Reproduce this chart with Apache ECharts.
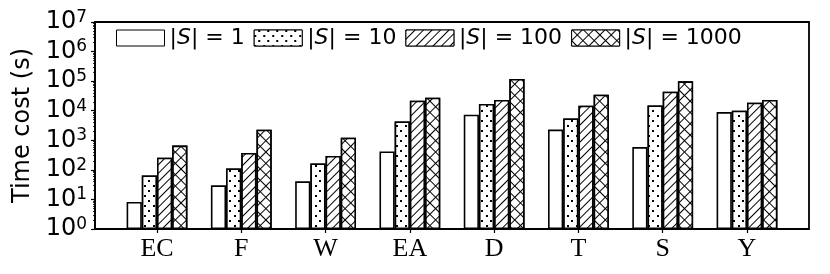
<!DOCTYPE html>
<html>
<head>
<meta charset="utf-8">
<script src="https://cdn.jsdelivr.net/npm/echarts@6/dist/echarts.min.js"></script>
<style>html,body{margin:0;padding:0;background:#fff;}#c{width:830px;height:274px;}</style>
</head>
<body>
<div id="c"></div>
<script>
// ---- data ----
var categories = ['EC', 'F', 'W', 'EA', 'D', 'T', 'S', 'Y'];
var seriesNames = ['|S| = 1', '|S| = 10', '|S| = 100', '|S| = 1000'];
var s1 = [8.2, 30, 41, 420, 7300, 2300, 590, 9000];
var s10 = [65, 112, 165, 4350, 16900, 5500, 15100, 10000];
var s100 = [257, 372, 295, 21800, 23000, 14800, 43900, 18700];
var s1000 = [660, 2280, 1230, 27600, 118000, 34800, 98500, 23000];
var yMin = 1, yMax = 1e7;
var minorTickValues = [];
for (var d = 0; d < 7; d++) { for (var m = 2; m <= 9; m++) { minorTickValues.push(Math.log10(m) + d); } }

// ---- styles ----
var decals = [
  'none',
  { symbol: 'rect', symbolSize: 1, color: '#000', backgroundColor: '#fff',
    dashArrayX: [[1.8, 6.2], [0, 4, 1.8, 2.2]], dashArrayY: [1.8, 2.2] },
  { symbol: 'rect', symbolSize: 1, color: '#000', backgroundColor: '#fff',
    dashArrayX: [1, 0], dashArrayY: [1, 5], rotation: -Math.PI / 4 },
  { symbol: 'rect', symbolSize: 1, color: '#fff', backgroundColor: '#000',
    dashArrayX: [6.2, 1], dashArrayY: [6.2, 1], rotation: Math.PI / 4 }
];
var allData = [s1, s10, s100, s1000];

var chart = echarts.init(document.getElementById('c'), null, { renderer: 'canvas' });
var series = allData.map(function (arr, i) {
  var it = { color: '#fff', borderColor: '#000', borderWidth: 1.6 };
  if (decals[i] !== 'none') it.decal = decals[i];
  return {
    name: seriesNames[i], type: 'bar', xAxisIndex: 1, yAxisIndex: 1,
    data: arr, barWidth: 15.2, barGap: '0%', itemStyle: it, animation: false
  };
});

var option = {
  animation: false,
  aria: { enabled: false },
  grid: [
    { left: 95, right: 21, top: 22, bottom: 45, show: true, borderColor: '#000', borderWidth: 1.8, backgroundColor: 'transparent' },
    { left: 114.86, right: 40.86, top: 22, bottom: 45 }
  ],
  legend: {
    left: 116, top: 27, padding: 0, itemWidth: 48, itemHeight: 16, itemGap: 9, icon: 'rect',
    data: seriesNames,
    itemStyle: { borderWidth: 1, borderColor: '#000' },
    textStyle: { fontFamily: 'DejaVu Sans', fontSize: 22, color: '#000',
      rich: { i: { fontFamily: 'DejaVu Sans', fontStyle: 'italic', fontSize: 22, color: '#000' } } },
    formatter: function (n) { return n.replace('S', '{i|S}'); }
  },
  xAxis: [
    { type: 'value', gridIndex: 0, show: false, min: 0, max: 1 },
    { type: 'category', gridIndex: 1, data: categories,
      axisLine: { show: false },
      axisTick: { show: true, alignWithLabel: true, length: 4, lineStyle: { color: '#000', width: 1.2 } },
      axisLabel: { fontFamily: 'Liberation Serif', fontSize: 26, color: '#000', margin: 7 } }
  ],
  yAxis: [
    { type: 'log', gridIndex: 0, min: yMin, max: yMax, logBase: 10, interval: 1,
      name: 'Time cost (s)', nameLocation: 'middle', nameGap: 57,
      nameTextStyle: { fontFamily: 'DejaVu Sans', fontSize: 24, color: '#000' },
      axisLine: { show: true, lineStyle: { color: '#000', width: 1.8 } },
      axisTick: { show: true, length: 4, lineStyle: { color: '#000', width: 1.2 } },
      splitLine: { show: false },
      axisLabel: { margin: 8, color: '#000',
        formatter: function (v) { return '{b|10}{s|' + Math.round(Math.log10(v)) + '}'; },
        rich: { b: { fontFamily: 'DejaVu Sans', fontSize: 24, color: '#000', lineHeight: 26 },
                s: { fontFamily: 'DejaVu Sans', fontSize: 17, color: '#000', verticalAlign: 'top', lineHeight: 26, padding: [0, 0, 8, 0] } } } },
    { type: 'log', gridIndex: 1, min: yMin, max: yMax, logBase: 10, show: false },
    { type: 'value', gridIndex: 0, min: 0, max: 7, position: 'left',
      axisLine: { show: false }, splitLine: { show: false }, axisLabel: { show: false },
      axisTick: { show: true, length: 2, customValues: minorTickValues, lineStyle: { color: '#000', width: 0.8 } } }
  ],
  series: series
};
chart.setOption(option);
</script>
</body>
</html>
